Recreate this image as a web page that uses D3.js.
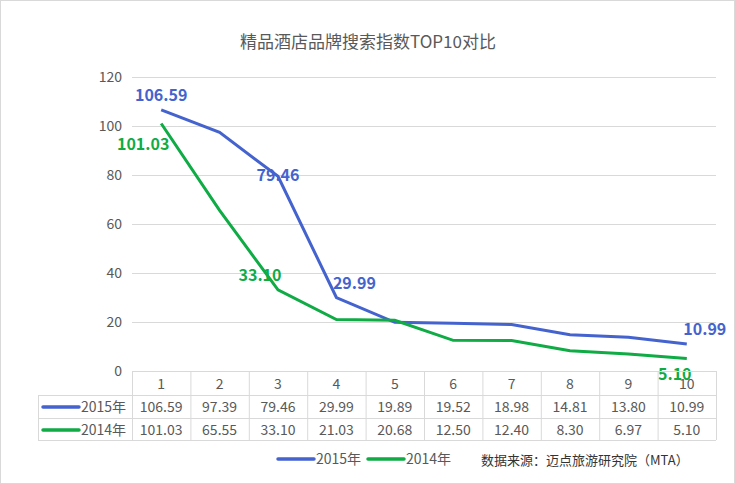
<!DOCTYPE html>
<html><head><meta charset="utf-8">
<script src="https://cdn.jsdelivr.net/npm/d3@7"></script>
<style>body{margin:0;background:#fff;font-family:"Microsoft YaHei","Noto Sans CJK SC",sans-serif}</style>
</head><body><div id="chart"></div>
<script>
const categories = ["1","2","3","4","5","6","7","8","9","10"];
const s2015 = [106.59,97.39,79.46,29.99,19.89,19.52,18.98,14.81,13.80,10.99];
const s2014 = [101.03,65.55,33.10,21.03,20.68,12.50,12.40,8.30,6.97,5.10];
const yTicks = [0,20,40,60,80,100,120];
const series = [
  {name:"2015年", values:s2015, color:"#4463cf", labels:[0,2,3,9], dy:[-14,0,-14,-14], dx:[0,0,18,18]},
  {name:"2014年", values:s2014, color:"#0fab45", labels:[0,2,9], dx:[-18,-18,-12], dy:[22,-14,16]}
];
const W=735,H=484, pLeft=132, pRight=716, pTop=77, pBottom=371;
const svg=d3.select("#chart").append("svg").attr("width",W).attr("height",H);
svg.append("rect").attr("x",0.5).attr("y",0.5).attr("width",W-1).attr("height",H-1).attr("fill","#fff").attr("stroke","#d9d9d9");
svg.append("text").attr("x",368).attr("y",48).attr("text-anchor","middle").attr("font-size",17).attr("fill","#595959").text("精品酒店品牌搜索指数TOP10对比");
const x=d3.scaleBand().domain(categories).range([pLeft,pRight]);
const y=d3.scaleLinear().domain([0,120]).range([pBottom,pTop]);
svg.append("g").selectAll("line").data(yTicks).join("line")
  .attr("x1",pLeft).attr("x2",pRight).attr("y1",d=>y(d)+0.5).attr("y2",d=>y(d)+0.5).attr("stroke","#d9d9d9");
svg.append("g").selectAll("text").data(yTicks).join("text")
  .attr("x",122).attr("y",d=>y(d)+5).attr("text-anchor","end").attr("font-size",14).attr("fill","#595959").text(d=>d);
const cx=d=>x(d)+x.bandwidth()/2;
series.forEach(s=>{
  const line=d3.line().x((v,i)=>cx(categories[i])).y(v=>y(v));
  svg.append("path").attr("d",line(s.values)).attr("fill","none").attr("stroke",s.color).attr("stroke-width",3);
  s.labels.forEach((i,k)=>{
    svg.append("text").attr("x",cx(categories[i])+s.dx[k]).attr("y",y(s.values[i])+s.dy[k]+5)
      .attr("text-anchor","middle").attr("font-size",16).attr("font-weight","bold").attr("fill",s.color)
      .text(s.values[i].toFixed(2));
  });
});
// data table
const rowY=[371,395,418,440], tl=38;
const g=svg.append("g").attr("stroke","#d9d9d9").attr("fill","none");
g.append("line").attr("x1",pLeft).attr("x2",pRight).attr("y1",rowY[0]+0.5).attr("y2",rowY[0]+0.5);
rowY.slice(1).forEach(r=>g.append("line").attr("x1",tl).attr("x2",pRight).attr("y1",r+0.5).attr("y2",r+0.5));
g.append("line").attr("x1",tl+0.5).attr("x2",tl+0.5).attr("y1",rowY[1]).attr("y2",rowY[3]);
[...categories.map(c=>x(c)),pRight].forEach(v=>g.append("line").attr("x1",v+0.5).attr("x2",v+0.5).attr("y1",rowY[0]).attr("y2",rowY[3]));
svg.append("g").selectAll("text").data(categories).join("text").attr("x",cx).attr("y",rowY[0]+18)
  .attr("text-anchor","middle").attr("font-size",14).attr("fill","#595959").text(d=>d);
series.forEach((s,j)=>{
  const ry=rowY[j+1]+17;
  svg.append("line").attr("x1",43).attr("x2",79).attr("y1",ry-5).attr("y2",ry-5).attr("stroke",s.color).attr("stroke-width",3.5).attr("stroke-linecap","round");
  svg.append("text").attr("x",81).attr("y",ry).attr("font-size",14).attr("fill","#595959").text(s.name);
  svg.append("g").selectAll("text").data(s.values).join("text").attr("x",(v,i)=>cx(categories[i])).attr("y",ry)
    .attr("text-anchor","middle").attr("font-size",14).attr("fill","#595959").text(v=>v.toFixed(2));
});
// legend
series.forEach((s,j)=>{
  const lx=278+j*90;
  svg.append("line").attr("x1",lx).attr("x2",lx+36).attr("y1",459).attr("y2",459).attr("stroke",s.color).attr("stroke-width",3.5).attr("stroke-linecap","round");
  svg.append("text").attr("x",lx+38).attr("y",464).attr("font-size",14).attr("fill","#595959").text(s.name);
});
svg.append("text").attr("x",481).attr("y",465).attr("font-size",13).attr("fill","#333").text("数据来源：迈点旅游研究院（MTA）");
</script></body></html>
